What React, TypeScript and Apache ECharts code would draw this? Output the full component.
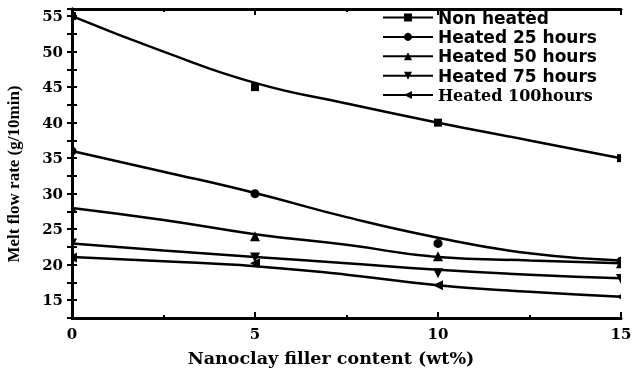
import React, { useEffect, useRef } from "react";
import * as echarts from "echarts";

// Measured samples (filler content in wt%)
const fillerContent = [0, 5, 10, 15];
const nonHeated = [55, 45, 40, 35];
const heated25 = [36, 30, 23, 20.5];
const heated50 = [28, 24, 21.2, 20.2];
const heated75 = [23, 21, 18.8, 18];
const heated100 = [21, 20.2, 17.1, 15.5];

// Fitted trend curves
const fitContent = [0, 2.5, 5, 7.5, 10, 12.5, 15];
const nonHeatedFit = [55, 50, 45.6, 42.7, 40, 37.5, 35];
const heated25Fit = [36, 33.1, 30.1, 26.7, 23.8, 21.6, 20.6];
const heated50Fit = [28, 26.3, 24.3, 22.8, 21.1, 20.6, 20.2];
const heated75Fit = [23, 22, 21.1, 20.2, 19.3, 18.6, 18.1];
const heated100Fit = [21.1, 20.5, 19.8, 18.6, 17.1, 16.2, 15.5];

const seriesNames = [
  "Non heated",
  "Heated 25 hours",
  "Heated 50 hours",
  "Heated 75 hours",
  "Heated 100hours",
];
const measured = [nonHeated, heated25, heated50, heated75, heated100];
const fitted = [nonHeatedFit, heated25Fit, heated50Fit, heated75Fit, heated100Fit];
const symbols = ["rect", "circle", "triangle", "triangle", "triangle"];
const symbolRotations = [0, 0, 0, 180, 90];
const symbolSizes = [8, 9, 10, 10, 10];

const xTicks = [0, 5, 10, 15];
const yTicks = [15, 20, 25, 30, 35, 40, 45, 50, 55];

const SERIF = "'DejaVu Serif', serif";
const SANS = "'DejaVu Sans', sans-serif";

// Marker outline for one data point, centred on the coordinate (cx, cy)
function markerShape(kind: number, cx: number, cy: number, s: number) {
  const h = s / 2;
  const style = { fill: "#000" };
  switch (kind) {
    case 0:
      return { type: "rect", shape: { x: cx - h, y: cy - h, width: s, height: s }, style };
    case 1:
      return { type: "circle", shape: { cx, cy, r: h }, style };
    case 2:
      return { type: "polygon", shape: { points: [[cx, cy - h], [cx + h, cy + h], [cx - h, cy + h]] }, style };
    case 3:
      return { type: "polygon", shape: { points: [[cx, cy + h], [cx + h, cy - h], [cx - h, cy - h]] }, style };
    default:
      return { type: "polygon", shape: { points: [[cx - h, cy], [cx + h, cy - h], [cx + h, cy + h]] }, style };
  }
}

export default function App() {
  const ref = useRef<HTMLDivElement>(null);

  useEffect(() => {
    if (!ref.current) return;
    const chart = echarts.init(ref.current, undefined, { renderer: "svg" });

    const tickLabel = {
      fontFamily: SERIF,
      fontWeight: "bold" as const,
      fontSize: 15,
      color: "#000",
    };
    const frameLine = { show: true, lineStyle: { color: "#000", width: 3 } };

    const lineSeries = seriesNames.map((name, i) => ({
      name,
      type: "line" as const,
      smooth: 0.5,
      data: fitContent.map((x, j) => [x, fitted[i][j]]),
      symbol: symbols[i],
      symbolRotate: symbolRotations[i],
      symbolSize: symbolSizes[i],
      showSymbol: false,
      lineStyle: { color: "#000", width: 2.5 },
      itemStyle: { color: "#000" },
      z: 2,
    }));

    // Measured points, clipped to the plot frame
    const pointSeries = seriesNames.map((name, i) => ({
      name,
      type: "custom" as const,
      clip: true,
      data: fillerContent.map((x, j) => [x, measured[i][j]]),
      renderItem: (_params: any, api: any) => {
        const [cx, cy] = api.coord([api.value(0), api.value(1)]);
        return markerShape(i, cx, cy, symbolSizes[i]);
      },
      itemStyle: { color: "#000" },
      z: 3,
    }));

    chart.setOption({
      animation: false,
      color: ["#000"],
      grid: { left: 72, right: 17, top: 9, bottom: 54 },
      legend: {
        orient: "vertical",
        left: 382,
        top: 9,
        padding: 0,
        itemWidth: 50,
        itemHeight: 10,
        itemGap: 2.4,
        data: seriesNames.map((name, i) => ({
          name,
          textStyle:
            i === seriesNames.length - 1
              ? { fontFamily: SERIF, fontWeight: "bold", fontSize: 16, color: "#000", lineHeight: 17 }
              : { fontFamily: SANS, fontWeight: "bold", fontSize: 17, color: "#000", lineHeight: 17 },
        })),
      },
      xAxis: [
        {
          type: "value",
          min: 0,
          max: 15,
          interval: 5,
          axisLine: frameLine,
          axisTick: { inside: true, length: 6, lineStyle: { width: 2, color: "#000" } },
          minorTick: { show: true, splitNumber: 2, length: 3, lineStyle: { width: 2, color: "#000" } },
          axisLabel: {
            ...tickLabel,
            margin: 8,
            formatter: (v: number) => (xTicks.includes(v) ? String(v) : ""),
          },
          splitLine: { show: false },
        },
        {
          type: "value",
          position: "top",
          min: 0,
          max: 15,
          interval: 5,
          axisLine: frameLine,
          axisTick: { inside: true, length: 6, lineStyle: { width: 2, color: "#000" } },
          minorTick: { show: true, splitNumber: 2, length: 3, lineStyle: { width: 2, color: "#000" } },
          axisLabel: { show: false },
          splitLine: { show: false },
        },
      ],
      yAxis: [
        {
          type: "value",
          min: 12.5,
          max: 56,
          interval: 2.5,
          axisLine: frameLine,
          axisTick: { inside: true, length: 5, lineStyle: { width: 2, color: "#000" } },
          axisLabel: {
            ...tickLabel,
            margin: 9,
            formatter: (v: number) => (yTicks.includes(v) ? String(v) : ""),
          },
          splitLine: { show: false },
        },
        {
          type: "value",
          position: "right",
          min: 12.5,
          max: 56,
          interval: 2.5,
          axisLine: frameLine,
          axisTick: { inside: true, length: 5, lineStyle: { width: 2, color: "#000" } },
          axisLabel: { show: false },
          splitLine: { show: false },
        },
      ],
      graphic: [
        {
          type: "text",
          x: 13,
          y: 174,
          rotation: Math.PI / 2,
          style: {
            text: "Melt flow rate (g/10min)",
            font: "bold 17px 'Liberation Serif', serif",
            fill: "#000",
            textAlign: "center",
            textVerticalAlign: "middle",
          },
        },
        {
          type: "text",
          x: 331,
          y: 358,
          style: {
            text: "Nanoclay filler content (wt%)",
            font: `bold 17.5px ${SERIF}`,
            fill: "#000",
            textAlign: "center",
            textVerticalAlign: "middle",
          },
        },
      ],
      series: [...lineSeries, ...pointSeries],
    });

    return () => chart.dispose();
  }, []);

  return (
    <div
      ref={ref}
      style={{ position: "fixed", left: 0, top: 0, width: 638, height: 372 }}
    />
  );
}
